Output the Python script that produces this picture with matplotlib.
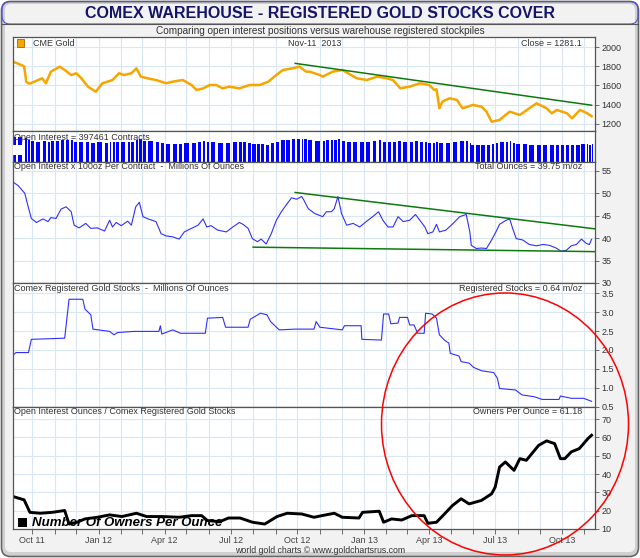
import matplotlib
matplotlib.use('Agg')
import matplotlib.pyplot as plt
import matplotlib.dates as mdates
from matplotlib.patches import FancyBboxPatch, Rectangle, Ellipse
from matplotlib.ticker import FixedLocator, FormatStrFormatter
import numpy as np
import pandas as pd

plt.rcParams['font.family'] = ['Liberation Sans', 'DejaVu Sans']

# ---- data ----
gold_dates = ['2011-09-05', '2011-09-16', '2011-09-20', '2011-09-23', '2011-09-26', '2011-09-28',
              '2011-10-15', '2011-10-20', '2011-10-27', '2011-11-08', '2011-11-15', '2011-11-24',
              '2011-12-01', '2011-12-08', '2011-12-17', '2011-12-28', '2012-01-06', '2012-01-20',
              '2012-01-29', '2012-02-05', '2012-02-15', '2012-02-22', '2012-02-28', '2012-03-08',
              '2012-03-20', '2012-04-03', '2012-04-12', '2012-04-26', '2012-05-08', '2012-05-15',
              '2012-05-24', '2012-06-02', '2012-06-11', '2012-06-20', '2012-06-29', '2012-07-13',
              '2012-07-27', '2012-08-10', '2012-08-22', '2012-09-02', '2012-09-11', '2012-09-25',
              '2012-10-04', '2012-10-13', '2012-10-18', '2012-11-01', '2012-11-05', '2012-11-19',
              '2012-12-02', '2012-12-22', '2013-01-05', '2013-01-19', '2013-02-01', '2013-02-10',
              '2013-02-20', '2013-03-05', '2013-03-19', '2013-04-01', '2013-04-08', '2013-04-11',
              '2013-04-15', '2013-04-19', '2013-04-29', '2013-05-09', '2013-05-17', '2013-05-31',
              '2013-06-12', '2013-06-19', '2013-06-26', '2013-07-07', '2013-07-21', '2013-08-04',
              '2013-08-17', '2013-08-27', '2013-09-10', '2013-09-17', '2013-09-24', '2013-10-08',
              '2013-10-15', '2013-10-26', '2013-11-05', '2013-11-11']
gold_close = [1847, 1813, 1800, 1640, 1623, 1620, 1675, 1623, 1744, 1796, 1761, 1709,
              1727, 1675, 1588, 1536, 1623, 1657, 1727, 1709, 1727, 1779, 1692, 1675,
              1657, 1623, 1640, 1657, 1605, 1553, 1570, 1605, 1605, 1570, 1588, 1570,
              1605, 1605, 1640, 1709, 1761, 1779, 1796, 1744, 1744, 1709, 1692, 1744,
              1761, 1675, 1657, 1692, 1675, 1657, 1571, 1588, 1623, 1605, 1553, 1560,
              1363, 1432, 1467, 1450, 1363, 1398, 1380, 1328, 1224, 1242, 1328, 1294,
              1363, 1415, 1363, 1311, 1346, 1311, 1259, 1346, 1311, 1281]
gold_trend_dates = ['2012-09-28', '2013-11-11']
gold_trend = [1830, 1395]

oi_dates = ['2011-09-05', '2011-09-12', '2011-09-21', '2011-09-25', '2011-09-30', '2011-10-07',
            '2011-10-16', '2011-10-23', '2011-10-27', '2011-11-03', '2011-11-10', '2011-11-17',
            '2011-11-24', '2011-11-28', '2011-12-05', '2011-12-14', '2011-12-21', '2011-12-30',
            '2012-01-09', '2012-01-16', '2012-01-20', '2012-01-25', '2012-02-01', '2012-02-10',
            '2012-02-15', '2012-02-21', '2012-02-26', '2012-03-02', '2012-03-09', '2012-03-20',
            '2012-03-27', '2012-04-03', '2012-04-12', '2012-04-21', '2012-04-28', '2012-05-08',
            '2012-05-17', '2012-05-24', '2012-05-29', '2012-06-04', '2012-06-13', '2012-06-25',
            '2012-07-04', '2012-07-13', '2012-07-18', '2012-07-25', '2012-07-31', '2012-08-07',
            '2012-08-12', '2012-08-19', '2012-08-26', '2012-09-02', '2012-09-09', '2012-09-16',
            '2012-09-23', '2012-09-30', '2012-10-07', '2012-10-10', '2012-10-16', '2012-10-25',
            '2012-11-05', '2012-11-10', '2012-11-17', '2012-11-21', '2012-11-26', '2012-12-01',
            '2012-12-08', '2012-12-17', '2012-12-26', '2013-01-04', '2013-01-13', '2013-01-21',
            '2013-01-27', '2013-02-03', '2013-02-10', '2013-02-17', '2013-02-24', '2013-03-05',
            '2013-03-13', '2013-03-19', '2013-03-26', '2013-03-30', '2013-04-06', '2013-04-11',
            '2013-04-15', '2013-04-24', '2013-05-04', '2013-05-13', '2013-05-22', '2013-05-27',
            '2013-05-29', '2013-06-05', '2013-06-12', '2013-06-19', '2013-06-26', '2013-07-02',
            '2013-07-07', '2013-07-16', '2013-07-21', '2013-07-25', '2013-07-30', '2013-08-08',
            '2013-08-17', '2013-08-27', '2013-09-05', '2013-09-14', '2013-09-23', '2013-09-30',
            '2013-10-07', '2013-10-14', '2013-10-21', '2013-10-28', '2013-11-04', '2013-11-08',
            '2013-11-11']
oi_moz = [52.5, 51.7, 50.0, 47.4, 44.4, 43.5, 44.3, 43.7, 44.6, 44.4, 46.5, 47.0,
          45.9, 42.9, 42.3, 43.3, 42.2, 42.3, 41.6, 44.0, 42.5, 43.5, 42.8, 43.8,
          42.9, 47.0, 48.0, 44.8, 44.3, 43.7, 41.0, 40.5, 40.3, 39.8, 41.4, 42.2,
          42.9, 44.3, 42.5, 42.8, 41.8, 41.4, 42.5, 43.5, 43.1, 42.2, 39.9, 39.2,
          39.8, 38.7, 41.0, 44.0, 45.9, 47.5, 49.0, 48.7, 49.3, 48.5, 46.6, 45.5,
          44.8, 45.9, 45.9, 46.6, 49.3, 45.5, 42.9, 43.3, 42.5, 43.7, 44.8, 45.9,
          44.0, 42.5, 42.5, 44.8, 43.7, 44.0, 45.3, 44.0, 42.5, 41.0, 41.4, 43.1,
          41.4, 41.8, 43.3, 44.8, 45.3, 41.4, 38.4, 37.7, 37.8, 37.7, 39.6, 41.4,
          43.1, 44.0, 44.3, 42.2, 39.9, 39.6, 38.6, 38.3, 38.6, 38.4, 37.8, 37.1,
          37.3, 38.3, 38.6, 39.8, 38.8, 38.6, 39.75]
oi_top_dates = ['2012-09-28', '2013-11-15']
oi_top = [50.2, 42.1]
oi_low_dates = ['2012-08-01', '2013-11-15']
oi_low = [38.0, 37.0]

reg_dates = ['2011-09-05', '2011-09-09', '2011-09-26', '2011-09-30', '2011-11-15', '2011-11-21',
             '2011-12-10', '2011-12-13', '2011-12-21', '2011-12-24', '2012-01-16', '2012-01-22',
             '2012-01-27', '2012-02-19', '2012-03-24', '2012-03-26', '2012-03-28', '2012-04-12',
             '2012-04-23', '2012-05-27', '2012-05-30', '2012-06-20', '2012-06-24', '2012-07-25',
             '2012-07-28', '2012-08-11', '2012-08-20', '2012-08-25', '2012-09-06', '2012-09-28',
             '2012-10-24', '2012-10-27', '2012-11-01', '2012-12-02', '2012-12-05', '2012-12-28',
             '2012-12-29', '2013-01-25', '2013-01-28', '2013-02-04', '2013-02-07', '2013-02-17',
             '2013-02-19', '2013-03-02', '2013-03-05', '2013-03-11', '2013-03-16', '2013-03-25',
             '2013-03-27', '2013-04-05', '2013-04-11', '2013-04-15', '2013-04-22', '2013-04-28',
             '2013-04-30', '2013-05-12', '2013-05-15', '2013-05-26', '2013-06-01', '2013-06-12',
             '2013-06-29', '2013-07-04', '2013-07-07', '2013-07-29', '2013-08-07', '2013-08-24',
             '2013-09-04', '2013-09-27', '2013-09-29', '2013-10-14', '2013-10-31', '2013-11-11']
reg_moz = [1.87, 1.93, 1.93, 2.28, 2.31, 3.34, 3.34, 3.08, 2.93, 2.55, 2.49, 2.40,
           2.46, 2.49, 2.49, 2.64, 2.42, 2.53, 2.44, 2.44, 2.84, 2.86, 2.60, 2.60,
           2.81, 2.97, 2.93, 2.75, 2.53, 2.55, 2.55, 2.75, 2.60, 2.53, 2.64, 2.64,
           2.28, 2.26, 2.95, 2.95, 2.69, 2.71, 2.86, 2.86, 2.66, 2.66, 2.44, 2.44,
           2.97, 2.95, 2.84, 2.40, 2.26, 2.18, 1.91, 1.84, 1.69, 1.65, 1.54, 1.45,
           1.40, 1.25, 0.98, 0.94, 0.81, 0.76, 0.69, 0.69, 0.78, 0.72, 0.72, 0.64]

own_dates = ['2011-09-05', '2011-09-20', '2011-09-28', '2011-10-12', '2011-10-29', '2011-11-15',
             '2011-11-21', '2011-12-02', '2011-12-13', '2011-12-30', '2012-01-16', '2012-02-02',
             '2012-02-22', '2012-03-07', '2012-03-29', '2012-04-21', '2012-05-08', '2012-05-22',
             '2012-05-30', '2012-06-16', '2012-06-28', '2012-07-14', '2012-07-31', '2012-08-17',
             '2012-09-03', '2012-09-17', '2012-10-07', '2012-10-24', '2012-11-04', '2012-11-21',
             '2012-12-02', '2012-12-25', '2012-12-30', '2013-01-22', '2013-01-28', '2013-02-08',
             '2013-02-22', '2013-03-08', '2013-03-25', '2013-03-30', '2013-04-11', '2013-04-22',
             '2013-05-03', '2013-05-15', '2013-05-26', '2013-06-12', '2013-06-26', '2013-07-01',
             '2013-07-07', '2013-07-15', '2013-07-27', '2013-08-04', '2013-08-13', '2013-08-30',
             '2013-09-10', '2013-09-21', '2013-09-29', '2013-10-05', '2013-10-14', '2013-10-25',
             '2013-10-31', '2013-11-06', '2013-11-11']
owners = [27.7, 25.9, 19.1, 18.6, 19.1, 20.1, 12.7, 13.7, 15.5, 16.4, 17.7, 16.8,
          18.6, 16.8, 16.8, 16.4, 17.3, 17.3, 14.6, 14.0, 16.0, 16.0, 13.7, 12.7,
          16.8, 18.6, 18.2, 16.4, 17.3, 18.6, 16.4, 16.0, 19.1, 19.7, 13.7, 15.5,
          14.9, 17.3, 17.3, 13.1, 13.7, 18.2, 22.8, 26.5, 23.7, 25.6, 29.2, 32.9,
          43.8, 46.6, 42.0, 48.4, 47.5, 55.7, 58.1, 56.6, 48.4, 48.4, 52.1, 53.9,
          56.6, 59.4, 61.2]

W, H = 640, 558
X0, X1 = 12.5, 594.5
XMIN = mdates.date2num(pd.Timestamp('2011-09-04'))
XMAX = mdates.date2num(pd.Timestamp('2013-11-15'))
GRID = '#d9e7f5'


def dn(lst):
    return mdates.date2num(pd.to_datetime(lst))


def fx(x):
    return x / W


def fy(y):
    return 1 - y / H


def panel(fig, y0, y1, ylim, yticks=None, fmt=None):
    ax = fig.add_axes([fx(X0), fy(y1), (X1 - X0) / W, (y1 - y0) / H])
    ax.set_facecolor('white')
    ax.set_xlim(XMIN, XMAX)
    ax.set_ylim(*ylim)
    ax.xaxis.set_major_locator(mdates.MonthLocator(bymonth=(1, 4, 7, 10)))
    ax.xaxis.set_minor_locator(mdates.MonthLocator())
    ax.grid(True, which='both', axis='x', color=GRID, lw=0.8)
    ax.tick_params(axis='x', which='both', bottom=False, labelbottom=False)
    ax.yaxis.tick_right()
    if yticks is not None:
        ax.yaxis.set_major_locator(FixedLocator(yticks))
        if fmt:
            ax.yaxis.set_major_formatter(FormatStrFormatter(fmt))
        ax.grid(True, axis='y', color=GRID, lw=0.8)
        ax.tick_params(axis='y', direction='out', length=3, width=0.6, colors='#555',
                       labelcolor='#333', labelsize=6.5, pad=2)
    else:
        ax.tick_params(axis='y', right=False, labelright=False)
    ax.set_axisbelow(True)
    for s in ax.spines.values():
        s.set_color('#555')
        s.set_linewidth(0.9)
    return ax


fig = plt.figure(figsize=(6.4, 5.58), dpi=100)

# ---- background frame and title bar ----
bg = fig.add_axes([0, 0, 1, 1])
bg.set_zorder(-1)
bg.set_xlim(0, W)
bg.set_ylim(H, 0)
bg.axis('off')
bg.add_patch(FancyBboxPatch((1.5, 1.5), W - 3, H - 3, boxstyle='round,pad=0,rounding_size=9',
                            facecolor='#d0d0d0', edgecolor='#666666', lw=1.2))
bg.add_patch(FancyBboxPatch((5, 4), W - 10, H - 10, boxstyle='round,pad=0,rounding_size=6',
                            facecolor='#f2f2f2', edgecolor='none'))
title_box = FancyBboxPatch((2, 1.5), W - 4, 22.5, boxstyle='round,pad=0,rounding_size=8',
                           facecolor='none', edgecolor='#5050e0', lw=0.8)
bg.add_patch(title_box)
bg.plot([2, W - 2], [24, 24], color='#555555', lw=0.8)
gx = np.linspace(-1, 1, 300)
gy = np.linspace(0, 1, 30)
GX, GY = np.meshgrid(gx, gy)
t = np.clip(np.abs(GX) ** 2.5 * 0.95 + (1 - GY) * 0.12, 0, 1)
light = np.array([0.85, 0.85, 0.98])
dark = np.array([0.40, 0.40, 0.94])
img = light[None, None, :] * (1 - t[..., None]) + dark[None, None, :] * t[..., None]
im = bg.imshow(img, extent=(2, W - 2, 24, 1.5), aspect='auto', interpolation='bilinear')
im.set_clip_path(title_box)
bg.text(W / 2, 13, 'COMEX WAREHOUSE - REGISTERED GOLD STOCKS COVER', ha='center', va='center',
        fontsize=11.5, fontweight='bold', color='#14146a')
bg.text(W / 2, 30.5, 'Comparing open interest positions versus warehouse registered stockpiles',
        ha='center', va='center', fontsize=7.2, color='#333333')
bg.text(W / 2, 550.5, 'world gold charts \u00a9 www.goldchartsrus.com', ha='center', va='center',
        fontsize=6.3, color='#333333')

# ---- panel 1: gold ----
ax1 = panel(fig, 37, 131, (1127, 2104), [1200, 1400, 1600, 1800, 2000])
ax1.plot(dn(gold_dates), gold_close, color='#f7a600', lw=1.8)
ax1.plot(dn(gold_trend_dates), gold_trend, color='#0d7a0d', lw=1.1)

# ---- panel 2: open interest bars ----
ax2 = panel(fig, 131, 162, (8, 62.5))
oi_x = dn(oi_dates)
widths = np.append(np.diff(oi_x), np.diff(oi_x)[-1]) * 0.62
ax2.bar(oi_x, oi_moz, width=widths, color='#0000ff', edgecolor='none', align='edge')
ax2.add_patch(Rectangle((0.0, 0.23), 0.021, 0.32, transform=ax2.transAxes,
                        facecolor='white', edgecolor='none', zorder=3))

# ---- panel 3: open interest in ounces ----
ax3 = panel(fig, 162, 283, (30, 57), [30, 35, 40, 45, 50, 55])
ax3.plot(dn(oi_dates), oi_moz, color='#2f2fff', lw=0.8)
ax3.plot(dn(oi_top_dates), oi_top, color='#0d7a0d', lw=1.1)
ax3.plot(dn(oi_low_dates), oi_low, color='#0d7a0d', lw=1.1)

# ---- panel 4: registered stocks ----
ax4 = panel(fig, 283, 407, (0.49, 3.77), [0.5, 1.0, 1.5, 2.0, 2.5, 3.0, 3.5], '%.1f')
ax4.plot(dn(reg_dates), reg_moz, color='#2f2fff', lw=0.8)

# ---- panel 5: owners per ounce ----
ax5 = panel(fig, 407, 529, (10, 76.6), [10, 20, 30, 40, 50, 60, 70])
ax5.plot(dn(own_dates), owners, color='black', lw=2.1)
ax5.tick_params(axis='x', which='both', bottom=True, labelbottom=True, direction='out',
                length=3.5, width=0.6, colors='#555', labelcolor='#444', labelsize=6.5, pad=1.5)
ax5.tick_params(axis='x', which='minor', labelbottom=False)
ax5.xaxis.set_major_formatter(mdates.DateFormatter('%b %y'))

# ---- panel header texts ----
hdr = dict(fontsize=6.5, color='#333333', va='center')
fig.add_artist(Rectangle((fx(17), fy(47)), 7 / W, 8 / H, transform=fig.transFigure,
                         facecolor='#f7a600', edgecolor='#9a6a00', lw=0.6))
fig.text(fx(33), fy(43.5), 'CME Gold', ha='left', **hdr)
fig.text(fx(315), fy(44), 'Nov-11  2013', ha='center', **hdr)
fig.text(fx(582), fy(44), 'Close = 1281.1', ha='right', **hdr)
fig.text(fx(14), fy(137), 'Open Interest = 397461 Contracts', ha='left', **hdr)
fig.text(fx(14), fy(166.5), 'Open Interest x 100oz Per Contract  -  Millions Of Ounces', ha='left', **hdr)
fig.text(fx(582), fy(166.5), 'Total Ounces = 39.75 m/oz', ha='right', **hdr)
fig.text(fx(14), fy(289), 'Comex Registered Gold Stocks  -  Millions Of Ounces', ha='left', **hdr)
fig.text(fx(582), fy(289), 'Registered Stocks = 0.64 m/oz', ha='right', **hdr)
fig.text(fx(14), fy(412), 'Open Interest Ounces / Comex Registered Gold Stocks', ha='left', **hdr)
fig.text(fx(582), fy(412), 'Owners Per Ounce = 61.18', ha='right', **hdr)

# legend of the bottom panel
fig.add_artist(Rectangle((fx(17.5), fy(527)), 9 / W, 9 / H, transform=fig.transFigure,
                         facecolor='black', edgecolor='none'))
fig.text(fx(32), fy(522.5), 'Number Of Owners Per Ounce', ha='left', va='center',
         fontsize=9.5, fontweight='bold', fontstyle='italic', color='black')

# red highlight ellipse
fig.add_artist(Ellipse((fx(505), fy(424)), 247 / W, 262 / H, transform=fig.transFigure,
                       facecolor='none', edgecolor='#ff0000', lw=1.1, zorder=10))

fig.savefig('out.png', dpi=100)
